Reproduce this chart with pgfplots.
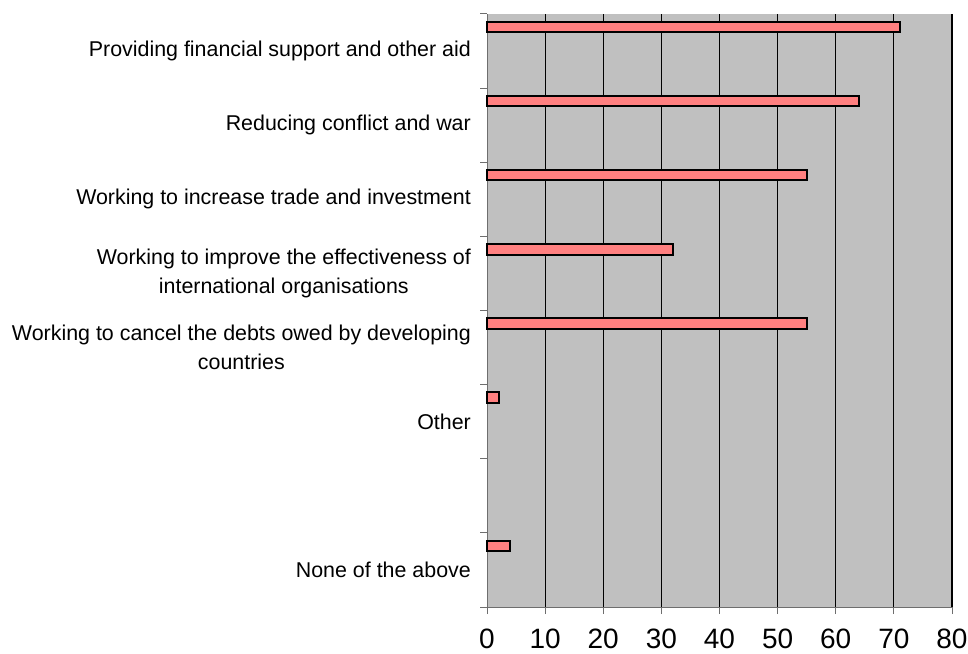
\documentclass[border=0pt]{standalone}
\usepackage{pgfplots}
\pgfplotsset{compat=1.18}
\usepackage{pgfplotstable}
\usepackage{fontspec}
\setmainfont{Liberation Sans}
\definecolor{barpink}{RGB}{255,128,128}
\definecolor{plotgray}{RGB}{192,192,192}
\definecolor{axgray}{RGB}{110,110,110}

\pgfplotstableread{
y val
7.824 71
6.824 64
5.824 55
4.824 32
3.824 55
2.824 2
0.824 4
}\datatable

\begin{document}
\begin{tikzpicture}[x=1pt,y=1pt]
\begin{axis}[
  at={(487pt,46pt)}, anchor=south west,
  scale only axis, width=465pt, height=593pt,
  xmin=0, xmax=80, ymin=0, ymax=8,
  axis lines=left,
  axis line style={-, draw=axgray, line width=1pt},
  axis background/.style={fill=plotgray},
  xtick={0,10,...,80},
  xmajorgrids, major grid style={draw=black, line width=1pt},
  tick align=outside, major tick length=7pt,
  tick style={draw=axgray, line width=1pt},
  /pgf/number format/assume math mode=true,
  xticklabel style={font=\fontsize{28}{33}\selectfont, inner sep=0pt, anchor=north, yshift=-15pt},
  ytick={0,1,...,8}, yticklabels={},
  extra y ticks={0.5,1.5,...,7.5},
  extra y tick labels={None of the above,{},Other,{Working to cancel the debts owed by developing\\countries},{Working to improve the effectiveness of\\international organisations},Working to increase trade and investment,Reducing conflict and war,Providing financial support and other aid},
  extra y tick style={major tick length=0pt, tick style={draw=none},
    yticklabel style={font=\fontsize{21.4}{29}\selectfont, align=center, inner sep=0pt, anchor=east, xshift=-16pt}},
  clip=false,
]
\addplot[xbar, bar width=0.14, fill=barpink, draw=black, line width=2pt] table[x=val, y=y] {\datatable};
\draw[black, line width=2pt] (axis cs:80,0) -- (axis cs:80,8);
\end{axis}
\pgfresetboundingbox
\path (0,0) rectangle (968pt,653pt);
\end{tikzpicture}
\end{document}
